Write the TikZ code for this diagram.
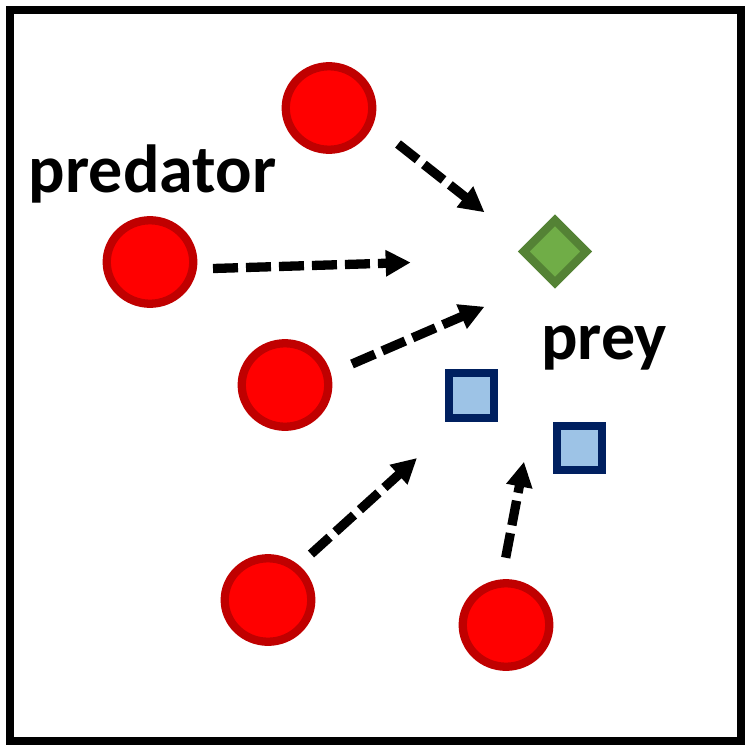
\documentclass[tikz,border=0pt]{standalone}
\usepackage{fontspec}
\setsansfont{Carlito}
\usetikzlibrary{arrows.meta,shapes.geometric}
\definecolor{predfill}{RGB}{255,0,0}
\definecolor{predline}{RGB}{192,0,0}
\definecolor{diafill}{RGB}{112,173,71}
\definecolor{dialine}{RGB}{84,130,53}
\definecolor{boxfill}{RGB}{157,195,230}
\definecolor{boxline}{RGB}{0,32,96}
\begin{document}
\begin{tikzpicture}[x=1pt,y=-1pt,font=\sffamily\bfseries,
predator/.style={ellipse, draw=predline, fill=predfill, line width=8.3pt, minimum width=86.5pt, minimum height=83.5pt, inner sep=0pt},
preybox/.style={draw=boxline, fill=boxfill, line width=8pt, minimum size=44.3pt, inner sep=0pt},
preydia/.style={diamond, draw=dialine, fill=diafill, line width=8.3pt, minimum size=66pt, inner sep=0pt},
chase/.style={line width=9.3pt, dash pattern=on 25pt off 8pt, -{Triangle[length=25pt,width=25pt]}},
preylabel/.style={font=\sffamily\bfseries\fontsize{68}{72}\selectfont, inner sep=0pt}]

\useasboundingbox (0,0) rectangle (749,749);
\draw[line width=8pt] (9.8,9.8) rectangle (740.5,740.5);

\node[predator] (p1) at (329,108) {};
\node[predator] (p2) at (150,262) {};
\node[predator] (p3) at (285,385) {};
\node[predator] (p4) at (268,600) {};
\node[predator] (p5) at (506,625) {};

\node[preydia] (d) at (555,251.5) {};
\node[preybox] (b1) at (471.5,395.5) {};
\node[preybox] (b2) at (579.5,447.7) {};

\node[preylabel] (predtext) at (152.5,174) {predator};
\node[preylabel] (preytext) at (604,348) {prey};

\coordinate (s1) at (398,144);
\coordinate (s2) at (213,268.5);
\coordinate (s3) at (352,364);
\coordinate (s4) at (311,554);
\coordinate (s5) at (505.7,557.7);

\coordinate (t1) at (484.5,212.3);
\coordinate (t2) at (410.7,262.5);
\coordinate (t3) at (484.5,306.7);
\coordinate (t4) at (417,458);
\coordinate (t5) at (524,461.7);

\draw[chase] (s1)--(t1);
\draw[chase] (s2)--(t2);
\draw[chase] (s3)--(t3);
\draw[chase] (s4)--(t4);
\draw[chase] (s5)--(t5);
%
\end{tikzpicture}
\end{document}
